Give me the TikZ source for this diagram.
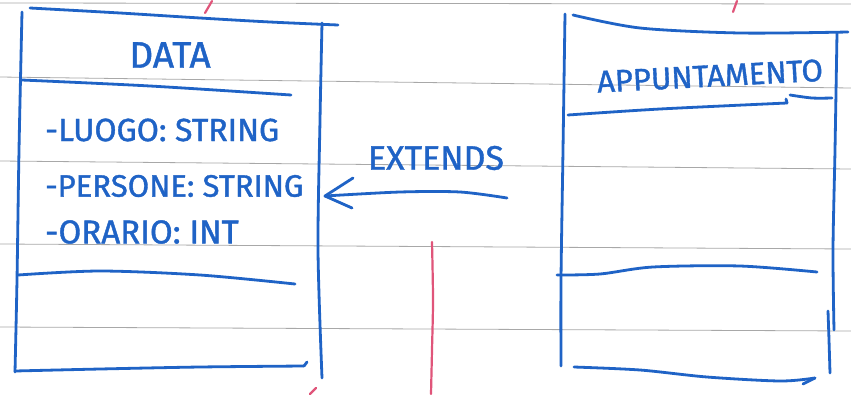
\documentclass[tikz,border=0pt]{standalone}
\usepackage{fontspec}
\setmainfont{Fira Sans}
\newfontfamily\handfont[FakeBold=1.2]{Fira Sans}
\usetikzlibrary{arrows.meta}
\definecolor{ink}{HTML}{1F63C6}
\definecolor{rule}{HTML}{A8A8A8}
\definecolor{margin}{HTML}{E0557A}
\tikzset{
  pen/.style={draw=ink, line width=2.8pt, line cap=round, line join=round},
  paperline/.style={draw=rule, line width=0.8pt},
  redmark/.style={draw=margin, line width=2.2pt, line cap=round},
  hand/.style={text=ink, font=\handfont\fontsize{31}{31}\selectfont, inner sep=0pt},
  attr/.style={hand, anchor=west},
}
\begin{document}
\begin{tikzpicture}[x=1pt,y=-1pt]
\useasboundingbox (0,0) rectangle (851,394);
\fill[white] (0,0) rectangle (851,394);

% ruled notebook lines
\draw[paperline] (0,3) -- (851,4);
\draw[paperline] (0,77) -- (851,88);
\draw[paperline] (0,161) -- (851,169);
\draw[paperline] (0,244) -- (851,249);
\draw[paperline] (0,327) -- (851,331);

% red pencil marks
\draw[redmark] (205,13) -- (212,1);
\draw[redmark] (733,12) -- (737,1);
\draw[redmark] (310,394) -- (316,388);
\draw[redmark] plot[smooth] coordinates {(432,242) (433,300) (432,350) (431,394)};

% ---- class DATA ----
\draw[pen] plot[smooth] coordinates {(30,8) (120,13) (200,18) (270,22) (338,25)};
\draw[pen] plot[smooth] coordinates {(22,12) (19,150) (17,280) (15,372)};
\draw[pen] plot[smooth] coordinates {(322,23) (320,120) (318,250) (322,378)};
\draw[pen] plot[smooth] coordinates {(22,80) (150,86) (291,95)};
\draw[pen] plot[smooth] coordinates {(18,275) (100,271) (200,275) (295,284)};
\draw[pen] plot[smooth] coordinates {(15,371) (100,369) (200,367) (304,366)};
\draw[pen] (304,366) -- (307,362);

\node[hand, font=\handfont\fontsize{37}{37}\selectfont] (dname) at (170,55) {DATA};
\node[attr, font=\handfont\fontsize{32}{32}\selectfont] (a1) at (45,130) {-LUOGO: STRING};
\node[attr] (a2) at (45,186) {-PERSONE: STRING};
\node[attr, font=\handfont\fontsize{33}{33}\selectfont] (a3) at (45,232) {-ORARIO: INT};

% ---- class APPUNTAMENTO ----
\draw[pen] plot[smooth] coordinates {(573,15) (640,28) (740,33) (848,32)};
\draw[pen] plot[smooth] coordinates {(565,14) (563,150) (561,280) (561,366)};
\draw[pen] plot[smooth] coordinates {(837,33) (835,150) (833,250) (834,330)};
\draw[pen] plot[smooth] coordinates {(828,311) (829,340) (830,373)};
\draw[pen] plot[smooth] coordinates {(568,115) (660,109) (787,103)};
\draw[pen] (787,103) -- (786,99);
\draw[pen] plot[smooth] coordinates {(790,95) (812,98) (832,98)};
\draw[pen] plot[smooth] coordinates {(557,275) (600,274) (653,267) (740,266) (817,272)};
\draw[pen] plot[smooth] coordinates {(574,367) (640,370) (707,377) (780,381) (815,378)};
\draw[pen] (815,378) -- (803,384);

\node[hand, font=\handfont\fontsize{31}{31}\selectfont, rotate=3] (aname) at (710,76) {APPUNTAMENTO};

% ---- extends relation ----
\coordinate (tail) at (507,198);
\coordinate (tip) at (325,196);
\draw[pen] plot[smooth] coordinates {(tail) (460,192) (400,192) (tip)};
\draw[pen] (353,178) -- (tip) -- (352,208);
\node[hand, font=\handfont\fontsize{34}{34}\selectfont] (ext) at (436,158) {EXTENDS};
\end{tikzpicture}
\end{document}
